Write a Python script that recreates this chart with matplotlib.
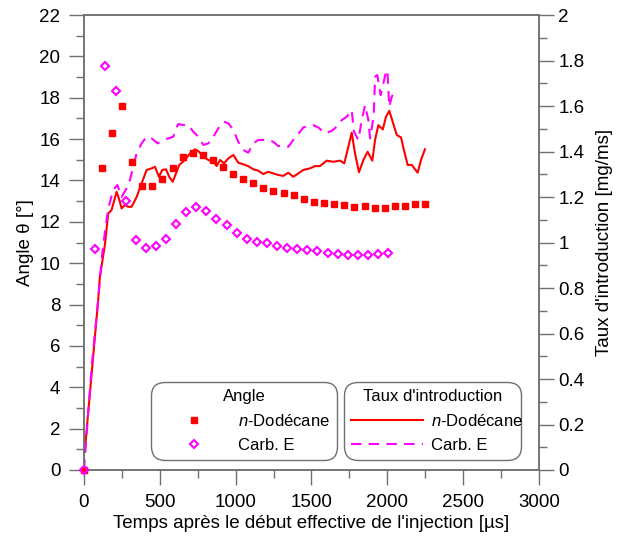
import matplotlib
matplotlib.use("Agg")
import matplotlib.pyplot as plt
from matplotlib.lines import Line2D
from matplotlib.ticker import MultipleLocator, FormatStrFormatter

plt.rcParams['font.family'] = ['Liberation Sans', 'DejaVu Sans']
plt.rcParams['mathtext.fontset'] = 'custom'
plt.rcParams['mathtext.it'] = 'Liberation Sans:italic'
plt.rcParams['mathtext.rm'] = 'Liberation Sans'

# angle measurements (left axis, degrees)
t_angle_dod = [0, 116, 182, 250, 316, 382, 451, 516, 585, 650, 716, 782, 851, 916,
               982, 1048, 1116, 1182, 1248, 1317, 1385, 1450, 1516, 1582, 1650, 1716,
               1782, 1850, 1916, 1982, 2050, 2116, 2182, 2250]
angle_dod = [0, 14.6, 16.3, 17.6, 14.9, 13.75, 13.75, 14.07, 14.59, 15.15, 15.31, 15.23,
             15.0, 14.67, 14.3, 14.09, 13.86, 13.62, 13.5, 13.4, 13.28, 13.1, 12.97,
             12.93, 12.86, 12.81, 12.73, 12.77, 12.69, 12.69, 12.75, 12.79, 12.88, 12.86]

t_angle_carb = [0, 72, 141, 209, 275, 343, 409, 475, 541, 607, 673, 741, 807, 873, 941,
                1007, 1073, 1139, 1207, 1273, 1338, 1407, 1473, 1539, 1607, 1673, 1739,
                1805, 1871, 1937, 2002]
angle_carb = [0, 10.7, 19.54, 18.34, 13.0, 11.13, 10.73, 10.82, 11.17, 11.92, 12.48, 12.74,
              12.51, 12.16, 11.84, 11.48, 11.19, 11.01, 10.96, 10.85, 10.75, 10.69, 10.66,
              10.6, 10.49, 10.44, 10.41, 10.41, 10.41, 10.43, 10.51]

# injection rate (right axis, mg/ms)
t_rate_dod = [5, 94, 105, 138, 160, 182, 215, 232, 248, 270, 292, 314, 347, 380, 413, 446,
              468, 494, 516, 541, 562, 585, 607, 628, 666, 699, 732, 754, 787, 820, 853,
              875, 897, 923, 952, 985, 1017, 1050, 1083, 1116, 1149, 1182, 1215, 1248,
              1281, 1314, 1347, 1380, 1413, 1446, 1490, 1523, 1556, 1600, 1644, 1688,
              1716, 1743, 1765, 1787, 1813, 1842, 1870, 1901, 1919, 1941, 1970, 1991,
              2013, 2035, 2062, 2090, 2112, 2134, 2161, 2178, 2200, 2222, 2248]
rate_dod = [0.08, 0.75, 0.85, 0.99, 1.128, 1.143, 1.223, 1.19, 1.15, 1.165, 1.157, 1.157,
            1.2, 1.26, 1.319, 1.326, 1.333, 1.289, 1.319, 1.322, 1.289, 1.267, 1.304,
            1.341, 1.363, 1.392, 1.41, 1.402, 1.377, 1.363, 1.355, 1.336, 1.363, 1.348,
            1.37, 1.385, 1.351, 1.344, 1.336, 1.322, 1.316, 1.301, 1.311, 1.304, 1.297,
            1.293, 1.307, 1.289, 1.304, 1.319, 1.326, 1.336, 1.336, 1.36, 1.355, 1.36,
            1.348, 1.421, 1.483, 1.392, 1.309, 1.363, 1.399, 1.36, 1.451, 1.516, 1.497,
            1.553, 1.579, 1.531, 1.473, 1.462, 1.399, 1.341, 1.341, 1.326, 1.307, 1.363,
            1.41]

t_rate_carb = [0, 50, 94, 120, 145, 160, 193, 220, 248, 281, 303, 325, 347, 380, 413, 446,
               486, 523, 556, 589, 607, 622, 655, 688, 721, 754, 787, 820, 853, 886, 923,
               952, 985, 1017, 1050, 1083, 1116, 1149, 1182, 1215, 1248, 1281, 1314, 1347,
               1380, 1413, 1446, 1479, 1512, 1545, 1589, 1633, 1666, 1699, 1732, 1765,
               1780, 1809, 1831, 1853, 1875, 1886, 1910, 1919, 1934, 1956, 1974, 1991,
               2000, 2013, 2029, 2055]
rate_carb = [0, 0.45, 0.75, 0.95, 1.08, 1.15, 1.231, 1.253, 1.2, 1.238, 1.275, 1.333,
             1.392, 1.436, 1.465, 1.458, 1.436, 1.451, 1.458, 1.465, 1.502, 1.521, 1.516,
             1.516, 1.487, 1.465, 1.429, 1.436, 1.465, 1.502, 1.531, 1.524, 1.495, 1.443,
             1.407, 1.395, 1.436, 1.451, 1.451, 1.451, 1.443, 1.424, 1.424, 1.421, 1.451,
             1.477, 1.506, 1.512, 1.516, 1.506, 1.48, 1.491, 1.509, 1.538, 1.553, 1.582,
             1.487, 1.451, 1.538, 1.604, 1.538, 1.458, 1.553, 1.729, 1.736, 1.648, 1.70,
             1.751, 1.758, 1.597, 1.641, 1.670]

RED = '#ff0000'
MAG = '#ff00ff'
GREY = '#707070'
FS = 13.5     # axis text
LFS = 12      # legend text

fig = plt.figure(figsize=(6.22, 5.38), dpi=100)
ax1 = fig.add_axes([0.135, 0.1264, 0.7316, 0.8456])
ax2 = ax1.twinx()

ax2.plot(t_rate_dod, rate_dod, color=RED, lw=1.5, zorder=2)
ax2.plot(t_rate_carb, rate_carb, color=MAG, lw=1.5, dashes=(5, 3.5), zorder=2)

ax1.plot(t_angle_dod, angle_dod, ls='none', marker='s', ms=5, color=RED,
         clip_on=False, zorder=3)
ax1.plot(t_angle_carb, angle_carb, ls='none', marker='D', ms=4.4, mfc='none',
         mec=MAG, mew=1.5, clip_on=False, zorder=3)
ax1.set_zorder(ax2.get_zorder() + 1)
ax1.patch.set_visible(False)

ax1.set_xlim(0, 3000)
ax1.set_ylim(0, 22)
ax2.set_ylim(0, 2)

ax1.xaxis.set_major_locator(MultipleLocator(500))
ax1.xaxis.set_minor_locator(MultipleLocator(250))
ax1.yaxis.set_major_locator(MultipleLocator(2))
ax1.yaxis.set_minor_locator(MultipleLocator(1))
ax2.yaxis.set_major_locator(MultipleLocator(0.2))
ax2.yaxis.set_minor_locator(MultipleLocator(0.1))
ax2.yaxis.set_major_formatter(FormatStrFormatter('%g'))

for ax in (ax1, ax2):
    for sp in ax.spines.values():
        sp.set_color(GREY)
        sp.set_linewidth(1.1)
    ax.tick_params(which='major', direction='out', length=11, width=1.0,
                   color=GREY, labelsize=FS, pad=3)
    ax.tick_params(which='minor', direction='out', length=5.5, width=1.0, color=GREY)
ax1.tick_params(axis='y', pad=6)
ax1.tick_params(axis='x', pad=6)

ax1.set_xlabel("Temps après le début effective de l'injection [µs]", fontsize=FS,
               labelpad=3)
ax1.set_ylabel("Angle θ [°]", fontsize=FS, labelpad=4)
ax2.set_ylabel("Taux d'introduction [mg/ms]", fontsize=FS, labelpad=8)

# legends
h_angle = [Line2D([], [], ls='none', marker='s', ms=5, color=RED),
           Line2D([], [], ls='none', marker='D', ms=4.0, mfc='none', mec=MAG, mew=1.5)]
h_rate = [Line2D([], [], color=RED, lw=1.5),
          Line2D([], [], color=MAG, lw=1.5, dashes=(5, 3.5))]
labels = ['$n$-Dodécane', 'Carb. E']

leg_kw = dict(loc='lower left', mode='expand', fontsize=LFS, title_fontsize=LFS,
              handlelength=4.3, handletextpad=0.5, labelspacing=0.55, borderpad=0.2,
              frameon=True, framealpha=1, edgecolor=GREY, fancybox=True)
leg1 = ax2.legend(h_angle, labels, title='Angle',
                  bbox_to_anchor=(0.137, 0.012, 0.431, 0.16), **leg_kw)
leg2 = ax2.legend(h_rate, labels, title="Taux d'introduction",
                  bbox_to_anchor=(0.561, 0.012, 0.41, 0.16), **leg_kw)
for lg in (leg1, leg2):
    lg.get_frame().set_boxstyle('round', pad=0.2, rounding_size=0.8)
    lg.get_frame().set_linewidth(1.0)
ax2.add_artist(leg1)

fig.savefig('out.png', dpi=100)
